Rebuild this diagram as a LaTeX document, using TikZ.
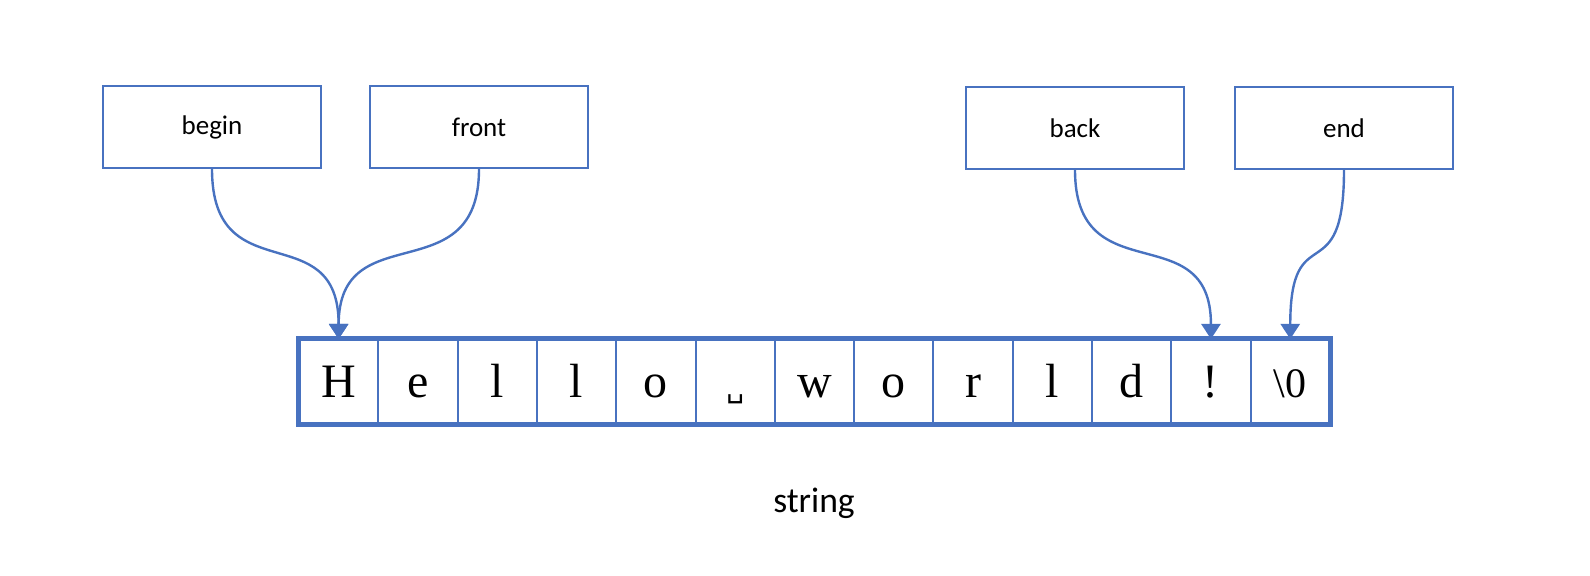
\documentclass[tikz,border=0pt]{standalone}
\usepackage{fontspec}
\setmainfont{Liberation Serif}
\newfontfamily\labelfont{Carlito}
\newfontfamily\glyphfont{DejaVu Sans}
\usepackage{xcolor}
\usetikzlibrary{arrows.meta}
\definecolor{officeblue}{RGB}{72,114,192}
\tikzstyle{ptrbox}=[rectangle,draw=officeblue,line width=1pt,minimum width=109pt,minimum height=41pt,inner sep=0pt,font=\labelfont\fontsize{13.5}{16}\selectfont]
\tikzstyle{cell}=[rectangle,draw=officeblue,line width=1pt,minimum width=39.65pt,minimum height=42pt,inner sep=0pt,text height=15.9pt,text depth=0pt,font=\fontsize{24}{28}\selectfont]
\tikzstyle{ptredge} = [draw=officeblue,line width=1.2pt,-{Triangle[width=9.5pt,length=7.5pt]}]
\tikzstyle{frame} = [draw=officeblue,line width=2.5pt]

\begin{document}
\begin{tikzpicture}[x=0.5pt,y=-0.5pt]

  \useasboundingbox (0,0) rectangle (1590,576);
  \def\w{79.3};

   \foreach \x/\y/\name/\label in {212/127/pbegin/begin, 479/127/pfront/front, 1075/128/pback/back, 1344/128/pend/end}
          \node[ptrbox] (\name) at (\x, \y) {\label};

   \foreach \i/\ch in {0/H, 1/e, 2/l, 3/l, 4/o, 5/{\glyphfont\fontsize{14}{16}\selectfont ␣}, 6/w, 7/o, 8/r, 9/l, 10/d, 11/!, 12/{\fontsize{21}{24}\selectfont\textbackslash 0}}
          \node[cell] (c\i) at (299+\i*\w+\w/2, 382) {\ch};

  \path[frame] (c0.north west) rectangle (c12.south east);

  \foreach \source/ \dest in {pbegin/c0, pfront/c0, pback/c11, pend/c12}
         \path[ptredge] (\source.south) .. controls +(0,125) and +(0,-125) .. (\dest.north);

  \node[font=\labelfont\fontsize{17.8}{21}\selectfont] (caption) at (814, 503) {string};

\end{tikzpicture}
\end{document}
